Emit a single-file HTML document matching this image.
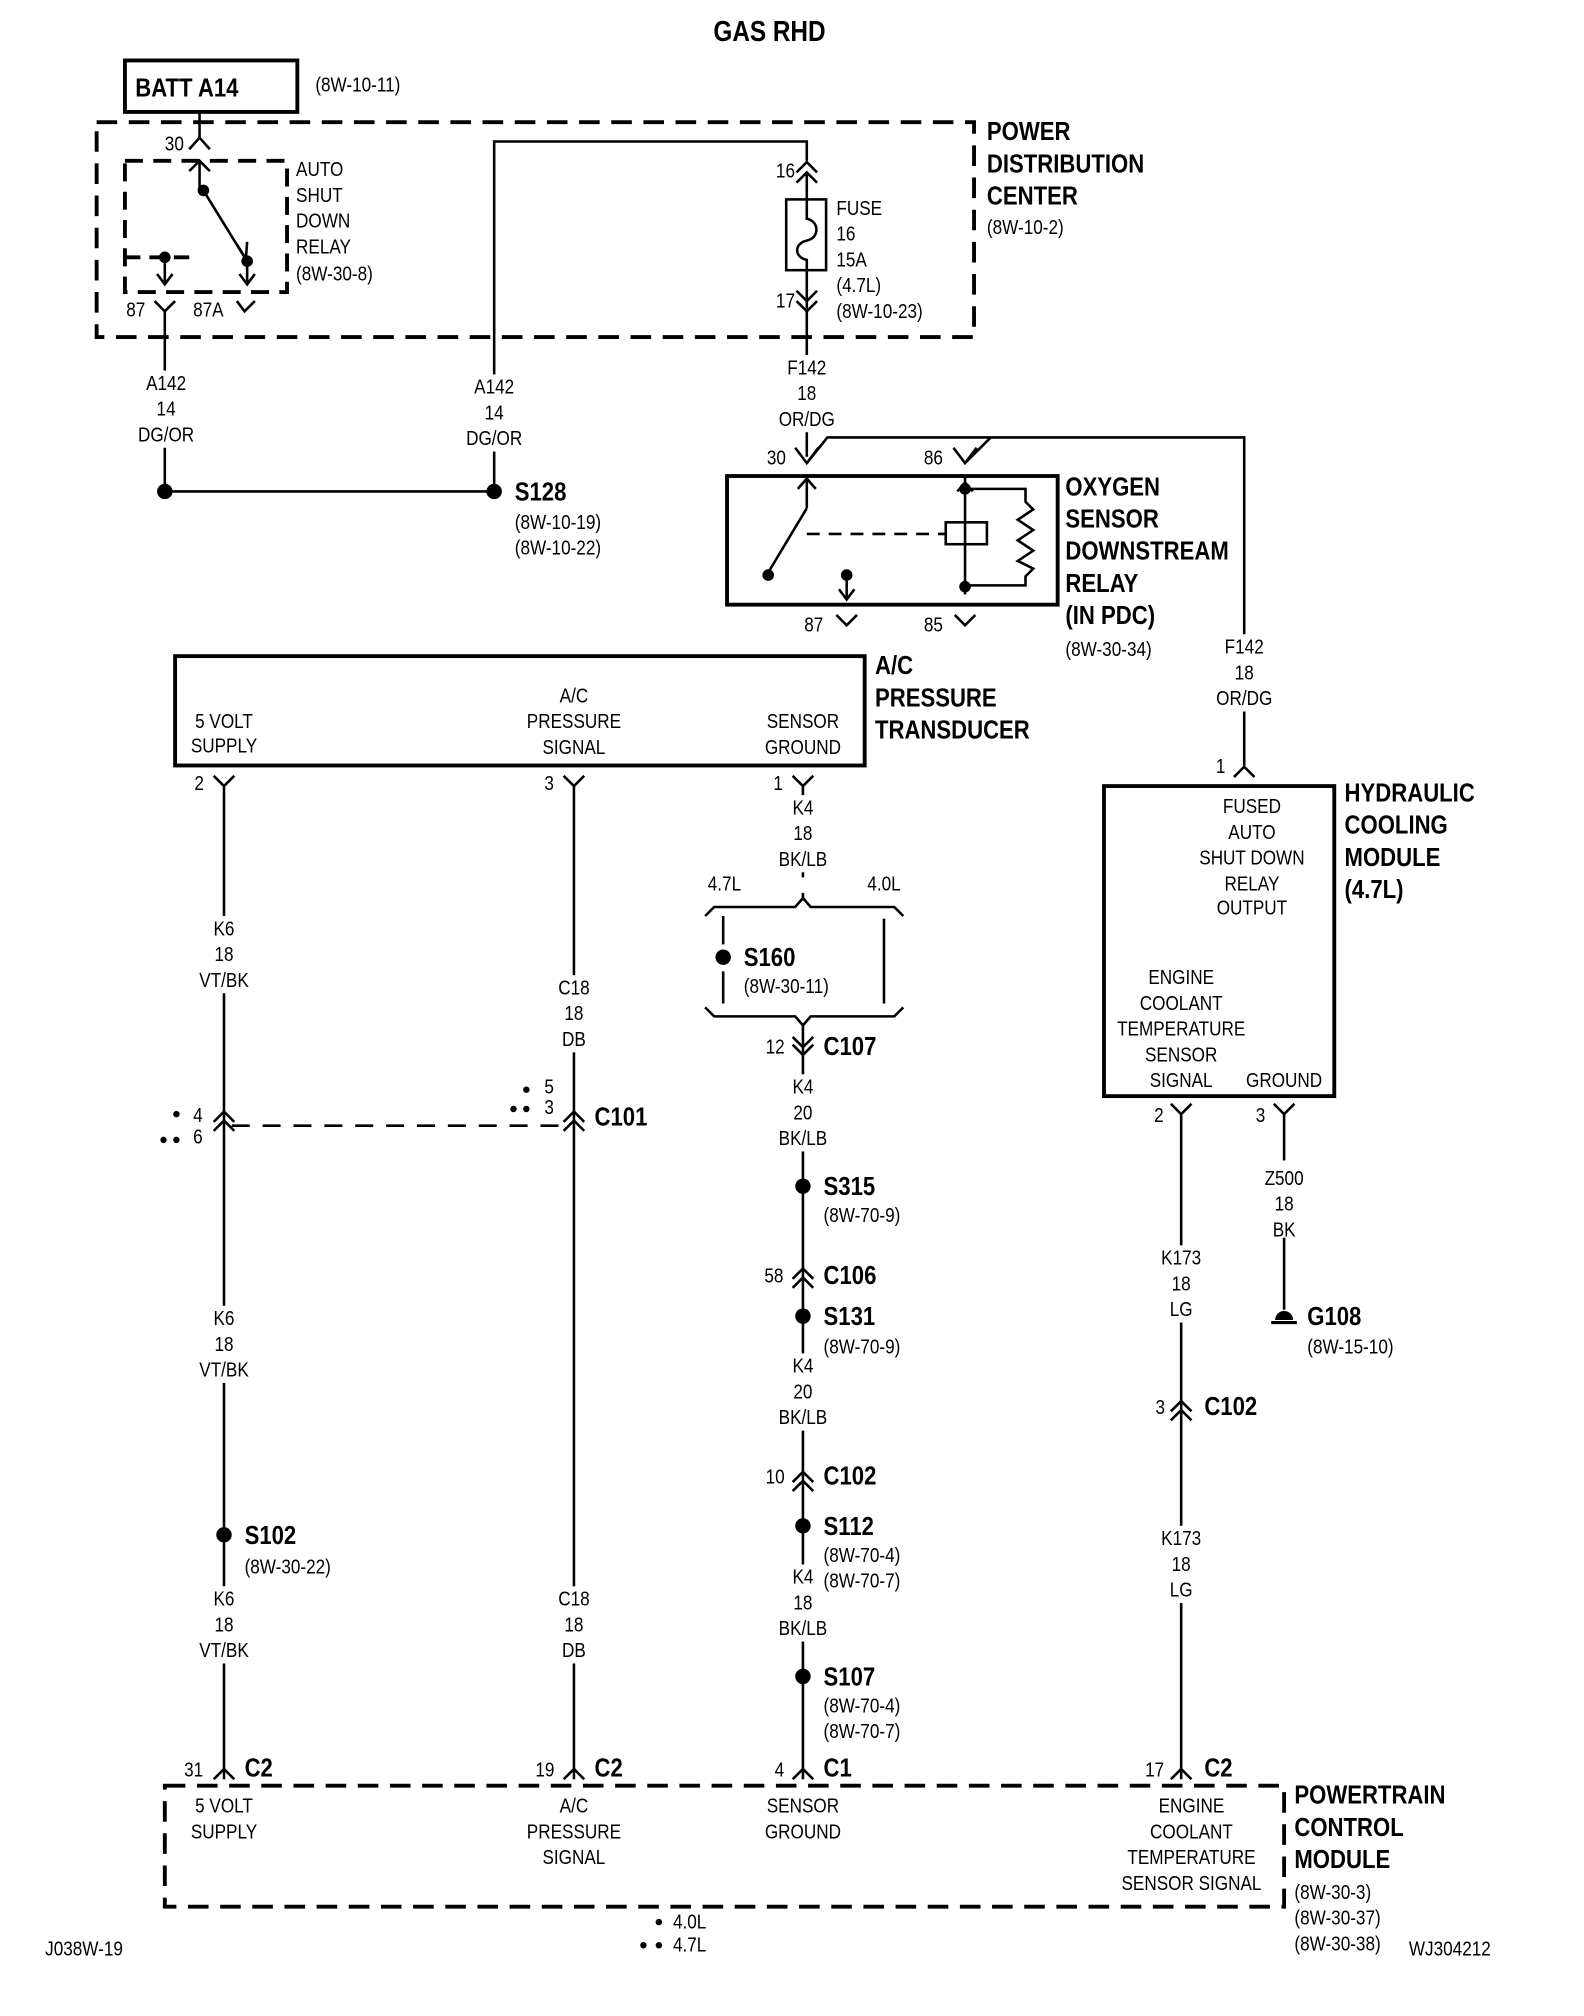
<!DOCTYPE html>
<html><head><meta charset="utf-8"><style>
html,body{margin:0;padding:0;background:#fff}
svg{display:block}
text{font-family:"Liberation Sans Narrow","Liberation Sans",sans-serif;fill:#000;transform-box:fill-box;transform-origin:0 0;transform:scaleX(0.86)}
.s{font-size:15.5px}
.b{font-size:20px;font-weight:bold}
.m{text-anchor:middle;transform-origin:50% 0}
</style></head><body>
<svg width="1584" height="2016" viewBox="0 0 1231 1567" xmlns="http://www.w3.org/2000/svg">
<g fill="none" stroke="#000" stroke-width="2">
<rect x="97" y="47" width="134" height="40" stroke-width="3"/>
<rect x="75" y="95" width="682" height="167" stroke-width="3" stroke-dasharray="16 9"/>
<rect x="97" y="125" width="126" height="102" stroke-width="3" stroke-dasharray="14 8"/>
<path d="M155 87 V107 M147 116 L155 107 L163 116"/>
<path d="M155 125 V150 M147 133 L155 125 L163 133"/>
<path d="M158 148 L190 200 M184 190 L191 201 L192 188"/>
<path d="M97 200 H150" stroke-dasharray="12 7" stroke-width="3"/>
<path d="M128 200 V220 M122 213 L128 221 L134 213 M192 203 V220 M186 213 L192 221 L198 213"/>
<path d="M120 234 L128 242 L136 234 M128 242 V382"/>
<path d="M184 234 L190 242 L198 234"/>
<path d="M128 382 H384 M384 382 V110 H627 V125"/>
<path d="M619 134 L627 126 L635 134 M619 142 L627 134 L635 142 M627 134 V155"/>
<rect x="611" y="155" width="31" height="55"/>
<path d="M627 155 V170 C637 172 637 185 627 187 C617 189 617 200 627 202 V210"/>
<path d="M627 210 V240 M619 226 L627 234 L635 226 M619 234 L627 242 L635 234 M627 242 V355"/>
<path d="M618 348 L627 360 L636 348 M627 360 L643 340 H967 V595 M741 348 L750 360 L759 348 M750 360 L770 340"/>
<rect x="565" y="370" width="257" height="100" stroke-width="3"/>
<path d="M627 370 V395 M620 380 L627 372 L634 380 M627 395 L597 445"/>
<path d="M627 415 H735" stroke-dasharray="10 7"/>
<rect x="735" y="406" width="32" height="17"/>
<path d="M750 370 V462 M744 382 L750 375 L756 382 M750 380 H797 V390 L803 396 L791 404 L803 412 L791 420 L803 428 L791 436 L803 442 L797 448 V455 H750"/>
<path d="M658 447 V465 M652 458 L658 466 L664 458"/>
<path d="M650 478 L658 486 L666 478 M742 478 L750 486 L758 478"/>
<path d="M959 604 L967 596 L975 604"/>
<rect x="136" y="510" width="536" height="85" stroke-width="3"/>
<path d="M166 603 L174 611 L182 603 M174 611 V1383 M438 603 L446 611 L454 603 M446 611 V1383 M616 603 L624 611 L632 603 M624 611 V682 M624 694 V700"/>
<path d="M166 872 L174 864 L182 872 M166 879 L174 871 L182 879 M438 872 L446 864 L454 872 M438 879 L446 871 L454 879"/>
<path d="M180 875 H440" stroke-dasharray="14 10"/>
<path d="M548 712 L555 705 H618 L624 698 L630 705 H695 L702 712"/>
<path d="M548 783 L555 790 H618 L624 797 L630 790 H695 L702 783"/>
<path d="M562 712 V734 M562 755 V780 M687 714 V780"/>
<path d="M624 797 V1383"/>
<path d="M616 806 L624 814 L632 806 M616 812 L624 820 L632 812"/>
<path d="M616 994 L624 986 L632 994 M616 1001 L624 993 L632 1001"/>
<path d="M616 1152 L624 1144 L632 1152 M616 1159 L624 1151 L632 1159"/>
<path d="M166 1383 L174 1375 L182 1383 M438 1383 L446 1375 L454 1383 M616 1383 L624 1375 L632 1383 M910 1383 L918 1375 L926 1383"/>
<rect x="858" y="611" width="179" height="241" stroke-width="3"/>
<path d="M910 858 L918 866 L926 858 M918 866 V1383 M990 858 L998 866 L1006 858 M998 866 V1018"/>
<path d="M910 1097 L918 1089 L926 1097 M910 1104 L918 1096 L926 1104"/>
<path d="M988 1028 H1008" stroke-width="2.5"/>
<rect x="128" y="1388" width="870" height="94" stroke-width="3" stroke-dasharray="16 9"/>
</g>
<g fill="#fff">
<rect x="104" y="288" width="50" height="60"/>
<rect x="359" y="291" width="50" height="60"/>
<rect x="602" y="276" width="50" height="60"/>
<rect x="942" y="493" width="50" height="60"/>
<rect x="599" y="618" width="50" height="60"/>
<rect x="149" y="712" width="50" height="60"/>
<rect x="149" y="1015" width="50" height="60"/>
<rect x="149" y="1233" width="50" height="60"/>
<rect x="421" y="758" width="50" height="60"/>
<rect x="421" y="1233" width="50" height="60"/>
<rect x="599" y="835" width="50" height="60"/>
<rect x="599" y="1052" width="50" height="60"/>
<rect x="599" y="1216" width="40" height="60"/>
<rect x="893" y="968" width="50" height="60"/>
<rect x="893" y="1186" width="50" height="60"/>
<rect x="973" y="902" width="50" height="60"/>
</g>
<g fill="#000">
<circle cx="158" cy="148" r="4.5"/><circle cx="128" cy="200" r="4.5"/><circle cx="192" cy="203" r="4.5"/>
<circle cx="128" cy="382" r="6"/><circle cx="384" cy="382" r="6"/>
<circle cx="597" cy="447" r="4.5"/><circle cx="658" cy="447" r="4.5"/><circle cx="750" cy="380" r="4.5"/><circle cx="750" cy="456" r="4.5"/>
<circle cx="562" cy="744" r="6"/>
<circle cx="624" cy="922" r="6"/><circle cx="624" cy="1023" r="6"/><circle cx="624" cy="1186" r="6"/><circle cx="624" cy="1303" r="6"/>
<circle cx="174" cy="1193" r="6"/>
<path d="M991 1026 A7 7 0 0 1 1005 1026 Z"/>
<circle cx="137" cy="866" r="2.5"/><circle cx="127" cy="886" r="2.5"/><circle cx="137" cy="886" r="2.5"/>
<circle cx="409" cy="847" r="2.5"/><circle cx="399" cy="862" r="2.5"/><circle cx="409" cy="862" r="2.5"/>
<circle cx="512" cy="1494" r="2.5"/><circle cx="500" cy="1512" r="2.5"/><circle cx="512" cy="1512" r="2.5"/>
</g>
<text x="598" y="32" class="b m" style="font-size:22px">GAS RHD</text>
<text x="105" y="75" class="b">BATT A14</text>
<text x="245" y="71" class="s">(8W-10-11)</text>
<text x="767" y="109" class="b">POWER</text><text x="767" y="134" class="b">DISTRIBUTION</text><text x="767" y="159" class="b">CENTER</text>
<text x="767" y="182" class="s">(8W-10-2)</text>
<text x="128" y="117" class="s">30</text>
<text x="230" y="137" class="s">AUTO</text><text x="230" y="157" class="s">SHUT</text><text x="230" y="177" class="s">DOWN</text><text x="230" y="197" class="s">RELAY</text><text x="230" y="218" class="s">(8W-30-8)</text>
<text x="98" y="246" class="s">87</text><text x="150" y="246" class="s">87A</text>
<text x="603" y="138" class="s">16</text><text x="603" y="239" class="s">17</text>
<text x="650" y="167" class="s">FUSE</text><text x="650" y="187" class="s">16</text><text x="650" y="207" class="s">15A</text><text x="650" y="227" class="s">(4.7L)</text><text x="650" y="247" class="s">(8W-10-23)</text>
<text x="129" y="303" class="s m">A142</text><text x="129" y="323" class="s m">14</text><text x="129" y="343" class="s m">DG/OR</text>
<text x="384" y="306" class="s m">A142</text><text x="384" y="326" class="s m">14</text><text x="384" y="346" class="s m">DG/OR</text>
<text x="627" y="291" class="s m">F142</text><text x="627" y="311" class="s m">18</text><text x="627" y="331" class="s m">OR/DG</text>
<text x="400" y="389" class="b">S128</text><text x="400" y="411" class="s">(8W-10-19)</text><text x="400" y="431" class="s">(8W-10-22)</text>
<text x="596" y="361" class="s">30</text><text x="718" y="361" class="s">86</text>
<text x="625" y="491" class="s">87</text><text x="718" y="491" class="s">85</text>
<text x="828" y="385" class="b">OXYGEN</text><text x="828" y="410" class="b">SENSOR</text><text x="828" y="435" class="b">DOWNSTREAM</text><text x="828" y="460" class="b">RELAY</text><text x="828" y="485" class="b">(IN PDC)</text>
<text x="828" y="510" class="s">(8W-30-34)</text>
<text x="967" y="508" class="s m">F142</text><text x="967" y="528" class="s m">18</text><text x="967" y="548" class="s m">OR/DG</text>
<text x="945" y="601" class="s">1</text>
<text x="680" y="524" class="b">A/C</text><text x="680" y="549" class="b">PRESSURE</text><text x="680" y="574" class="b">TRANSDUCER</text>
<text x="174" y="566" class="s m">5 VOLT</text><text x="174" y="585" class="s m">SUPPLY</text>
<text x="446" y="546" class="s m">A/C</text><text x="446" y="566" class="s m">PRESSURE</text><text x="446" y="586" class="s m">SIGNAL</text>
<text x="624" y="566" class="s m">SENSOR</text><text x="624" y="586" class="s m">GROUND</text>
<text x="151" y="614" class="s">2</text><text x="423" y="614" class="s">3</text><text x="601" y="614" class="s">1</text>
<text x="624" y="633" class="s m">K4</text><text x="624" y="653" class="s m">18</text><text x="624" y="673" class="s m">BK/LB</text>
<text x="563" y="692" class="s m">4.7L</text><text x="687" y="692" class="s m">4.0L</text>
<text x="578" y="751" class="b">S160</text><text x="578" y="772" class="s">(8W-30-11)</text>
<text x="595" y="819" class="s">12</text><text x="640" y="820" class="b">C107</text>
<text x="624" y="850" class="s m">K4</text><text x="624" y="870" class="s m">20</text><text x="624" y="890" class="s m">BK/LB</text>
<text x="640" y="929" class="b">S315</text><text x="640" y="950" class="s">(8W-70-9)</text>
<text x="594" y="997" class="s">58</text><text x="640" y="998" class="b">C106</text>
<text x="640" y="1030" class="b">S131</text><text x="640" y="1052" class="s">(8W-70-9)</text>
<text x="624" y="1067" class="s m">K4</text><text x="624" y="1087" class="s m">20</text><text x="624" y="1107" class="s m">BK/LB</text>
<text x="595" y="1153" class="s">10</text><text x="640" y="1154" class="b">C102</text>
<text x="640" y="1193" class="b">S112</text><text x="640" y="1214" class="s">(8W-70-4)</text><text x="640" y="1234" class="s">(8W-70-7)</text>
<text x="624" y="1231" class="s m">K4</text><text x="624" y="1251" class="s m">18</text><text x="624" y="1271" class="s m">BK/LB</text>
<text x="640" y="1310" class="b">S107</text><text x="640" y="1331" class="s">(8W-70-4)</text><text x="640" y="1351" class="s">(8W-70-7)</text>
<text x="174" y="727" class="s m">K6</text><text x="174" y="747" class="s m">18</text><text x="174" y="767" class="s m">VT/BK</text>
<text x="446" y="773" class="s m">C18</text><text x="446" y="793" class="s m">18</text><text x="446" y="813" class="s m">DB</text>
<text x="150" y="872" class="s">4</text><text x="150" y="889" class="s">6</text>
<text x="423" y="850" class="s">5</text><text x="423" y="866" class="s">3</text>
<text x="462" y="875" class="b">C101</text>
<text x="174" y="1030" class="s m">K6</text><text x="174" y="1050" class="s m">18</text><text x="174" y="1070" class="s m">VT/BK</text>
<text x="190" y="1200" class="b">S102</text><text x="190" y="1223" class="s">(8W-30-22)</text>
<text x="174" y="1248" class="s m">K6</text><text x="174" y="1268" class="s m">18</text><text x="174" y="1288" class="s m">VT/BK</text>
<text x="446" y="1248" class="s m">C18</text><text x="446" y="1268" class="s m">18</text><text x="446" y="1288" class="s m">DB</text>
<text x="143" y="1381" class="s">31</text><text x="190" y="1381" class="b">C2</text>
<text x="416" y="1381" class="s">19</text><text x="462" y="1381" class="b">C2</text>
<text x="602" y="1381" class="s">4</text><text x="640" y="1381" class="b">C1</text>
<text x="890" y="1381" class="s">17</text><text x="936" y="1381" class="b">C2</text>
<text x="1045" y="623" class="b">HYDRAULIC</text><text x="1045" y="648" class="b">COOLING</text><text x="1045" y="673" class="b">MODULE</text><text x="1045" y="698" class="b">(4.7L)</text>
<text x="973" y="632" class="s m">FUSED</text><text x="973" y="652" class="s m">AUTO</text><text x="973" y="672" class="s m">SHUT DOWN</text><text x="973" y="692" class="s m">RELAY</text><text x="973" y="711" class="s m">OUTPUT</text>
<text x="918" y="765" class="s m">ENGINE</text><text x="918" y="785" class="s m">COOLANT</text><text x="918" y="805" class="s m">TEMPERATURE</text><text x="918" y="825" class="s m">SENSOR</text><text x="918" y="845" class="s m">SIGNAL</text>
<text x="998" y="845" class="s m">GROUND</text>
<text x="897" y="872" class="s">2</text><text x="976" y="872" class="s">3</text>
<text x="998" y="921" class="s m">Z500</text><text x="998" y="941" class="s m">18</text><text x="998" y="961" class="s m">BK</text>
<text x="1016" y="1030" class="b">G108</text><text x="1016" y="1052" class="s">(8W-15-10)</text>
<text x="918" y="983" class="s m">K173</text><text x="918" y="1003" class="s m">18</text><text x="918" y="1023" class="s m">LG</text>
<text x="898" y="1099" class="s">3</text><text x="936" y="1100" class="b">C102</text>
<text x="918" y="1201" class="s m">K173</text><text x="918" y="1221" class="s m">18</text><text x="918" y="1241" class="s m">LG</text>
<text x="174" y="1409" class="s m">5 VOLT</text><text x="174" y="1429" class="s m">SUPPLY</text>
<text x="446" y="1409" class="s m">A/C</text><text x="446" y="1429" class="s m">PRESSURE</text><text x="446" y="1449" class="s m">SIGNAL</text>
<text x="624" y="1409" class="s m">SENSOR</text><text x="624" y="1429" class="s m">GROUND</text>
<text x="926" y="1409" class="s m">ENGINE</text><text x="926" y="1429" class="s m">COOLANT</text><text x="926" y="1449" class="s m">TEMPERATURE</text><text x="926" y="1469" class="s m">SENSOR SIGNAL</text>
<text x="1006" y="1402" class="b">POWERTRAIN</text><text x="1006" y="1427" class="b">CONTROL</text><text x="1006" y="1452" class="b">MODULE</text>
<text x="1006" y="1476" class="s">(8W-30-3)</text><text x="1006" y="1496" class="s">(8W-30-37)</text><text x="1006" y="1516" class="s">(8W-30-38)</text>
<text x="523" y="1499" class="s">4.0L</text><text x="523" y="1517" class="s">4.7L</text>
<text x="35" y="1520" class="s">J038W-19</text><text x="1095" y="1520" class="s">WJ304212</text>
</svg>
</body></html>
